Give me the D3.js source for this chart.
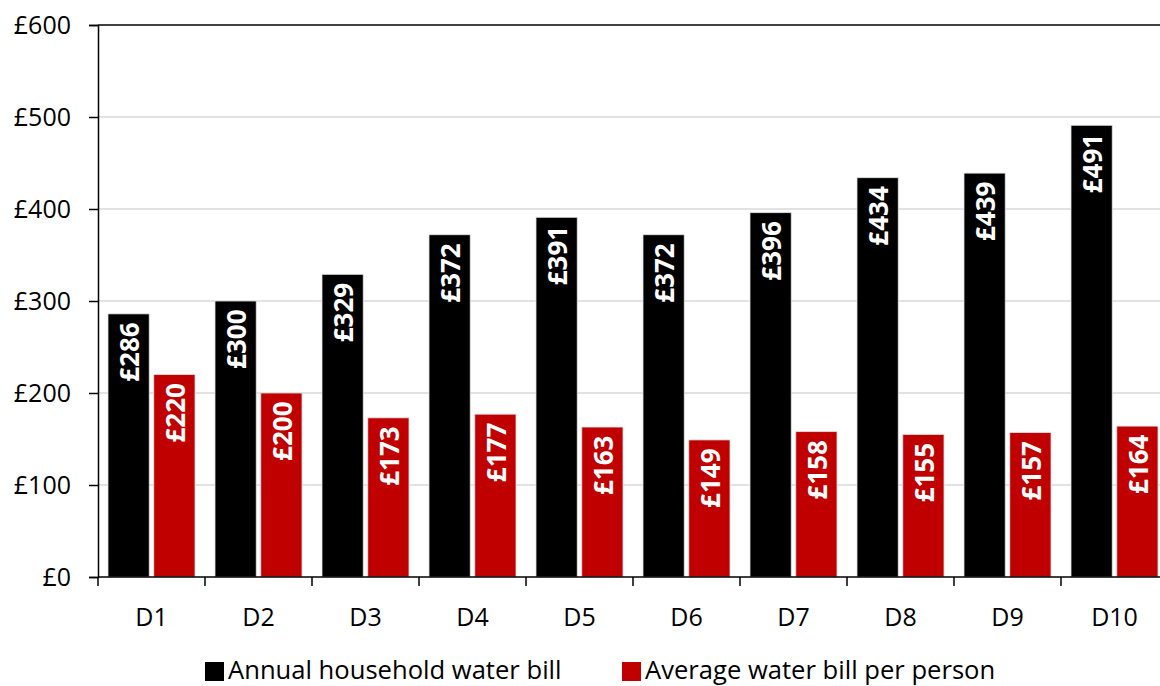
<!DOCTYPE html>
<html><head><meta charset="utf-8">
<script src="https://cdn.jsdelivr.net/npm/d3@7"></script>
<style>body{margin:0;background:#fff;overflow:hidden}svg{display:block}</style>
</head><body>
<svg id="c" width="1160" height="686"></svg>
<script>
const categories = ["D1","D2","D3","D4","D5","D6","D7","D8","D9","D10"];
const householdBill = [286,300,329,372,391,372,396,434,439,491];
const perPersonBill = [220,200,173,177,163,149,158,155,157,164];
const seriesNames = ["Annual household water bill","Average water bill per person"];
const seriesColors = ["#000000","#c00000"];
const yTicks = [0,100,200,300,400,500,600];

const svg = d3.select("#c");
const FONT = "'Open Sans', sans-serif";
const x0 = d3.scaleBand().domain(categories).range([98, 1168]).paddingInner(0).paddingOuter(0);
const x1 = d3.scaleBand().domain([0,1]).range([10, 97]).paddingInner(0.1);
const y = d3.scaleLinear().domain([0,600]).range([577, 25]);

// gridlines
svg.append("g").selectAll("line").data(yTicks.filter(t=>t>0 && t<600)).join("line")
  .attr("x1",98).attr("x2",1160).attr("y1",d=>y(d)).attr("y2",d=>y(d))
  .attr("stroke","#d9d9d9").attr("stroke-width",1.5);
svg.append("line").attr("x1",98).attr("x2",1160).attr("y1",y(600)).attr("y2",y(600))
  .attr("stroke","#000").attr("stroke-width",1.5);

// bars
const series = [householdBill, perPersonBill];
const g = svg.append("g");
series.forEach((vals,si)=>{
  g.selectAll(null).data(categories).join("rect")
    .attr("x",d=>x0(d)+x1(si)).attr("width",x1.bandwidth())
    .attr("y",(d,i)=>y(vals[i])).attr("height",(d,i)=>y(0)-y(vals[i]))
    .attr("fill",seriesColors[si]).attr("stroke","#e0e0e0").attr("stroke-width",0.8);
  g.selectAll(null).data(categories).join("text")
    .attr("transform",(d,i)=>`translate(${x0(d)+x1(si)+x1.bandwidth()/2+1},${y(vals[i])+8.5}) rotate(-90)`)
    .attr("text-anchor","end").attr("dy","0.36em")
    .attr("fill","#fff").attr("font-family",FONT).attr("font-weight","bold").attr("font-size",26)
    .text((d,i)=>"£"+vals[i]);
});

// y axis
const yAxis = d3.axisLeft(y).tickValues(yTicks).tickFormat(d=>"£"+d).tickSize(9).tickPadding(18);
const ya = svg.append("g").attr("transform","translate(98,0)").call(yAxis);
ya.select(".domain").attr("stroke","#000").attr("stroke-width",1.5);
ya.selectAll(".tick line").attr("stroke","#000").attr("stroke-width",1.5);
ya.selectAll("text").attr("font-family",FONT).attr("font-size",25).attr("fill","#000");

// x axis
const xAxis = d3.axisBottom(x0).tickSize(0).tickPadding(31);
const xa = svg.append("g").attr("transform","translate(0,577)").call(xAxis);
xa.select(".domain").attr("stroke","#000").attr("stroke-width",1.5).attr("d","M98,0H1168");
xa.selectAll("text").attr("font-family",FONT).attr("font-size",25).attr("fill","#000");
svg.append("g").selectAll("line").data(categories).join("line")
  .attr("x1",d=>x0(d)).attr("x2",d=>x0(d)).attr("y1",577).attr("y2",586)
  .attr("stroke","#000").attr("stroke-width",1.5);

// legend
const legX = [205, 622];
const leg = svg.append("g");
seriesNames.forEach((n,i)=>{
  leg.append("rect").attr("x",legX[i]).attr("y",662).attr("width",19).attr("height",19).attr("fill",seriesColors[i]);
  leg.append("text").attr("x",legX[i]+23).attr("y",679).attr("font-family",FONT).attr("font-size",25.6)
    .attr("fill","#000").text(n);
});
</script>
</body></html>
